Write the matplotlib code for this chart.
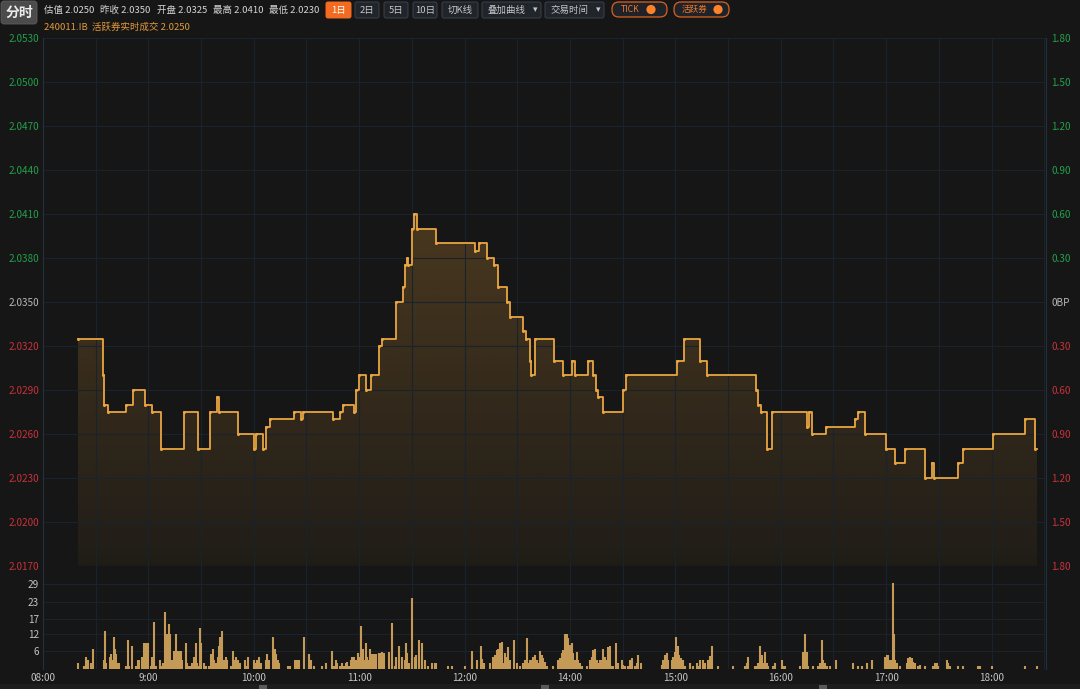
import numpy as np
import matplotlib
matplotlib.use("Agg")
import matplotlib.pyplot as plt
from matplotlib.patches import FancyBboxPatch, Rectangle, Circle

plt.rcParams['font.family'] = ['Noto Sans CJK SC', 'DejaVu Sans']

# ---- data (x = minutes on the session axis, 0 = 08:00) ----
price_t = [20, 34, 35, 37, 47, 51, 58, 62, 67, 80, 88, 95, 99, 100, 111, 120, 121, 125,
           127, 129, 143, 147, 148, 165, 169, 171, 177, 178, 180, 184, 187, 191, 193,
           201, 205, 206, 207, 208, 210, 211, 213, 224, 246, 248, 253, 257, 259, 264,
           266, 273, 275, 277, 278, 280, 291, 296, 301, 303, 310, 313, 315, 316, 319,
           330, 332, 361, 365, 374, 378, 406, 407, 409, 412, 415, 435, 436, 438, 446,
           462, 464, 468, 480, 485, 491, 502, 506, 507, 521, 524, 541, 559, 565]
price_v = [2.0325, 2.0300, 2.0280, 2.0275, 2.0280, 2.0290, 2.0280, 2.0275, 2.0250, 2.0275,
           2.0250, 2.0275, 2.0285, 2.0275, 2.0260, 2.0250, 2.0260, 2.0250, 2.0265, 2.0270,
           2.0275, 2.0270, 2.0275, 2.0270, 2.0275, 2.0280, 2.0275, 2.0290, 2.0300, 2.0290,
           2.0300, 2.0320, 2.0325, 2.0350, 2.0360, 2.0375, 2.0380, 2.0375, 2.0400, 2.0410,
           2.0400, 2.0390, 2.0385, 2.0390, 2.0380, 2.0375, 2.0360, 2.0350, 2.0340, 2.0330,
           2.0325, 2.0310, 2.0300, 2.0325, 2.0310, 2.0300, 2.0310, 2.0300, 2.0310, 2.0300,
           2.0290, 2.0285, 2.0275, 2.0290, 2.0300, 2.0310, 2.0325, 2.0310, 2.0300, 2.0290,
           2.0280, 2.0275, 2.0250, 2.0275, 2.0265, 2.0275, 2.0260, 2.0265, 2.0270, 2.0275,
           2.0260, 2.0250, 2.0240, 2.0250, 2.0230, 2.0240, 2.0230, 2.0240, 2.0250, 2.0260,
           2.0270, 2.0250]
t_last = 566

vol_t = [20.0, 23.4, 24.5, 25.7, 27.4, 28.5, 34.8, 35.3, 35.9, 38.2, 38.8, 39.3, 40.5, 41.0,
         41.6, 42.8, 43.3, 47.3, 48.5, 49.0, 50.7, 53.0, 54.2, 54.7, 56.4, 57.6, 58.7, 59.9,
         61.6, 62.1, 63.3, 64.4, 66.7, 67.8, 68.4, 69.5, 70.1, 70.7, 71.8, 72.4, 73.0, 74.1,
         74.7, 75.8, 76.4, 77.5, 78.7, 79.2, 81.5, 82.1, 83.2, 84.4, 84.9, 86.1, 87.2, 87.8,
         88.9, 89.5, 90.1, 91.8, 92.9, 94.6, 95.8, 96.9, 97.5, 98.6, 99.8, 100.3, 100.9,
         102.0, 102.6, 103.2, 104.3, 104.9, 107.2, 108.3, 109.4, 110.0, 111.2, 112.3, 115.1,
         115.7, 116.9, 120.3, 121.4, 122.0, 123.1, 124.3, 127.1, 127.7, 128.8, 131.1, 132.2,
         132.8, 134.0, 134.5, 139.7, 140.8, 143.6, 144.8,
         145.9, 148.8, 151.6, 152.8, 154.5, 159.0, 161.3, 164.7, 165.9, 167.0, 167.6, 169.3,
         170.4, 171.6, 172.7, 173.3, 174.4, 175.6, 176.1, 177.3, 178.4, 179.6, 180.7, 181.3,
         182.4, 183.0, 184.1, 184.7, 185.8, 186.4, 187.5, 188.1, 188.7, 189.8, 191.0, 191.5,
         192.7, 193.2, 194.4, 197.2, 198.4, 198.9, 200.6, 201.2, 202.4, 202.9, 204.6, 205.8,
         206.9, 207.5, 208.6, 209.8, 210.3, 211.5, 212.6, 213.8, 214.3, 215.5, 216.0, 217.2,
         218.9, 221.2, 222.9, 224.0, 230.3, 232.6, 240.0, 244.0, 244.5, 246.8, 249.1, 250.2,
         250.8, 254.2, 255.9, 257.1, 258.2, 258.8, 259.9, 261.1, 261.6, 262.8, 263.9, 264.5,
         265.6, 267.9, 269.6, 271.3, 273.0, 274.2, 275.3, 275.9, 277.0, 278.2, 278.7, 279.9,
         281.0, 281.6, 282.7, 283.9, 284.4, 285.6, 286.7, 290.1, 293.0, 294.1, 295.3, 295.8,
         297.0, 298.1, 298.7, 299.8, 301.0, 301.5, 302.7, 303.8, 304.4, 305.5, 306.7, 309.5,
         311.2, 312.4, 312.9, 314.1, 315.2, 315.8, 316.9, 318.1, 318.6, 319.8, 320.9, 321.5,
         322.6, 323.8, 324.3, 326.0, 327.2, 329.5, 330.0, 331.2, 332.9, 334.0, 335.2, 336.9,
         338.0, 338.6, 340.3, 352.3, 352.8, 354.0, 355.1, 355.7, 358.0, 358.5, 359.7, 360.2,
         361.4, 362.0, 363.1, 364.2, 365.4, 368.2, 369.9, 372.2, 372.8,
         373.9, 375.6, 376.8, 378.5, 379.6, 380.8, 384.2, 392.7, 399.6, 400.7, 401.3, 405.3,
         406.4, 407.0, 408.1, 409.3, 409.8, 411.0, 412.1, 412.7, 415.5, 416.7, 420.7, 421.2,
         422.4, 430.9, 432.6, 433.8, 434.9, 435.5, 438.3, 441.2, 442.3, 443.5, 444.0, 445.2,
         446.3, 448.0, 451.4, 461.1, 464.0, 466.3, 469.1, 472.0, 479.4, 480.5, 481.1, 482.2,
         483.4, 483.9, 484.5, 485.1, 486.2, 487.9, 491.9, 492.5, 493.6, 494.8, 495.3, 496.5,
         498.2, 499.3, 502.2, 506.7, 507.9, 509.0, 509.6, 514.7, 515.3, 516.4, 521.0, 523.8,
         532.4, 533.5, 540.4, 559.2, 566.0]
vol_v = [2, 1, 4, 3, 2, 7, 3, 13, 2, 4, 5, 3, 11, 7,
         5, 2, 2, 1, 10, 1, 8, 1, 3, 3, 4, 9, 9, 9,
         1, 4, 16, 1, 3, 1, 2, 19.5, 6.5, 12, 15.5, 12, 3, 3,
         6, 12, 6, 6, 6, 3, 9, 2, 1, 1, 2, 4, 9, 2,
         1, 14, 9, 2, 1, 1, 5, 7, 3, 2, 4, 8, 11,
         13, 2, 3, 4, 3, 1, 6, 3, 4, 3, 2, 3,
         1, 4, 3, 2, 3, 4, 2, 3, 5, 3, 11, 7,
         5, 3, 2, 1, 1, 3, 3,
         3, 11, 5, 3, 1, 1, 2, 6, 1, 3, 2, 1,
         2, 1, 2, 2.5, 1, 3, 4, 4, 3, 5.6, 4, 14.7,
         7, 3, 9, 4, 3, 7, 5, 5, 5, 5, 5.3, 5.3,
         5.3, 5.9, 5.6, 5.9, 15.7, 3, 1, 4, 8, 3, 4, 3,
         9, 5.3, 2, 24.4, 4, 4, 4.8, 4.8, 10, 9, 4, 3,
         1, 2, 2, 2, 1, 1, 1, 6, 2, 3, 8, 3.3,
         2, 2, 4, 4.8, 6.5, 7, 8.75, 9.3, 2, 5.3, 4, 7.6,
         3, 10, 2, 1, 2, 3, 10.7, 2, 3, 3, 4, 4.8,
         3, 2, 6, 4.8, 3.6, 2.5, 1, 1, 3, 3.6, 5.3, 6.5,
         12, 12, 10.5, 8.2, 9, 5.3, 3, 5.9, 3, 2, 1, 1,
         3, 4, 6.5, 7, 3, 2, 3, 3, 6.7, 4, 3, 7.6,
         7.8, 1, 1, 9, 2, 3, 1.4, 1, 1, 3, 3.9, 1,
         2, 4.8, 2, 1.4, 3, 4.8, 5.6, 3, 3, 4, 5.9, 10.8,
         7.8, 4.8, 3.6, 3, 1, 2, 1, 2, 1,
         3, 3, 2, 3, 4.4, 7.8, 1, 1, 1, 2, 4, 1,
         1, 2, 7.8, 4.8, 2, 5.8, 2, 1, 1, 2, 3, 1,
         1, 1, 5.9, 12, 5.9, 1, 1, 1, 2, 10, 3, 2,
         1, 1, 3, 2, 1, 1, 2, 3, 4.2, 4.8, 4.8, 3,
         3, 29.4, 12, 3, 2, 1, 2, 3.6, 4, 3.6, 2.5, 2,
         1, 1.4, 1, 1, 2, 2, 1, 3, 2, 1, 1, 1,
         1, 1, 1, 1, 1]

price_ticks = [2.0170, 2.0200, 2.0230, 2.0260, 2.0290, 2.0320, 2.0350,
               2.0380, 2.0410, 2.0440, 2.0470, 2.0500, 2.0530]
prev_close = 2.0350
bp_labels = ["1.80", "1.50", "1.20", "0.90", "0.60", "0.30", "0BP",
             "0.30", "0.60", "0.90", "1.20", "1.50", "1.80"]
vol_ticks = [6, 12, 17, 23, 29]
hour_t = [0, 60, 120, 180, 240, 300, 360, 420, 480, 540]
hour_labels = ["08:00", "9:00", "10:00", "11:00", "12:00", "14:00",
               "15:00", "16:00", "17:00", "18:00"]

header_items = [("估值", "2.0250"), ("昨收", "2.0350"), ("开盘", "2.0325"),
                ("最高", "2.0410"), ("最低", "2.0230")]

BG = "#161616"
GRID = "#18232d"
GREEN = "#22a04c"
RED = "#c8323b"
GOLD = "#e9a541"
X_MAX = 571

fig = plt.figure(figsize=(10.8, 6.89), dpi=100, facecolor=BG)
W, H = 1080, 689

def fx(px):
    return px / W

def fy(py):
    return 1 - py / H

ax = fig.add_axes([fx(43), fy(566), fx(1046) - fx(43), fy(38) - fy(566)], facecolor=BG)
axv = fig.add_axes([fx(43), fy(669), fx(1046) - fx(43), fy(566) - fy(669)], facecolor=BG)

def color_labels(labels, ticks):
    for lab, v in zip(labels, ticks):
        if abs(v - prev_close) < 1e-6:
            lab.set_color("#b8b8b8")
        elif v > prev_close:
            lab.set_color(GREEN)
        else:
            lab.set_color(RED)

# ---- price pane ----
xs = price_t + [t_last]
ys = price_v + [price_v[-1]]
lo, hi = price_ticks[0], price_ticks[-1]

poly = ax.fill_between(xs, ys, lo, step='post', facecolor='none', edgecolor='none')
alpha = np.linspace(0.05, 0.35, 256)
grad = np.zeros((256, 1, 4))
grad[..., 0] = 230 / 255
grad[..., 1] = 160 / 255
grad[..., 2] = 60 / 255
grad[..., 3] = alpha[:, None]
im = ax.imshow(grad, extent=[0, X_MAX, lo, hi], origin='lower', aspect='auto',
               interpolation='bilinear', zorder=1)
im.set_clip_path(poly.get_paths()[0], transform=ax.transData)

ax.step(xs, ys, where='post', color=GOLD, lw=1.3, zorder=3)
ax.plot(price_t, price_v, ls='none', marker='o', ms=1.2, color=GOLD, zorder=4)

ax.set_xlim(0, X_MAX)
ax.set_ylim(lo, hi)
ax.set_yticks(price_ticks)
ax.set_yticklabels([f"{v:.4f}" for v in price_ticks])
color_labels(ax.get_yticklabels(), price_ticks)
ax.set_xticks(np.arange(0, X_MAX, 30))
ax.set_xticklabels([])
ax.tick_params(axis='both', length=0, labelsize=7.2, pad=3)
ax.grid(True, color=GRID, lw=0.8)
for s in ['top', 'bottom']:
    ax.spines[s].set_visible(False)
for s in ['left', 'right']:
    ax.spines[s].set_color("#24303b")
    ax.spines[s].set_linewidth(0.8)

axr = ax.twinx()
axr.set_ylim(lo, hi)
axr.set_yticks(price_ticks)
axr.set_yticklabels(bp_labels[::-1])
color_labels(axr.get_yticklabels(), price_ticks)
axr.tick_params(axis='y', length=0, labelsize=7.2, pad=4)
for s in axr.spines.values():
    s.set_visible(False)

# ---- volume pane ----
axv.vlines(vol_t, 0, vol_v, colors="#c49a56", lw=1.5, zorder=3)
axv.set_xlim(0, X_MAX)
axv.set_ylim(0, 35.2)
axv.set_yticks(vol_ticks)
axv.set_yticklabels([str(v) for v in vol_ticks], color="#c4c4c4")
grid_t = list(np.arange(0, X_MAX, 30))
axv.set_xticks(grid_t)
axv.set_xticklabels([hour_labels[hour_t.index(t)] if t in hour_t else "" for t in grid_t],
                    color="#c4c4c4")
axv.tick_params(axis='both', length=0, labelsize=7.2, pad=3)
axv.grid(True, color=GRID, lw=0.8)
for s in ['top', 'bottom']:
    axv.spines[s].set_visible(False)
for s in ['left', 'right']:
    axv.spines[s].set_color("#24303b")
    axv.spines[s].set_linewidth(0.8)

# ---- header / overlay in pixel coords ----
ov = fig.add_axes([0, 0, 1, 1], facecolor='none')
ov.set_xlim(0, W)
ov.set_ylim(H, 0)
ov.axis('off')

ov.add_patch(FancyBboxPatch((1, 1), 36, 23, boxstyle="round,pad=0,rounding_size=3",
                            facecolor="#4b4b4b", edgecolor="#5c5c5c", lw=0.6))
ov.text(19, 13, "分时", color="#ececec", fontsize=10, fontweight='bold',
        ha='center', va='center')

x = 44
for name, val in header_items:
    ov.text(x, 10, name + " " + val, color="#d6d6d6", fontsize=6.8, ha='left', va='center')
    x += 56.3

def button(x0, x1, label, face, edge, tc, arrow=False):
    ov.add_patch(FancyBboxPatch((x0, 2), x1 - x0, 16, boxstyle="round,pad=0,rounding_size=2",
                                facecolor=face, edgecolor=edge, lw=0.7))
    if arrow:
        ov.text(x0 + 6, 10, label, color=tc, fontsize=6.8, ha='left', va='center')
        ov.text(x1 - 6, 10, "▾", color=tc, fontsize=6.5, ha='center', va='center',
                family='DejaVu Sans')
    else:
        ov.text((x0 + x1) / 2, 10, label, color=tc, fontsize=6.8, ha='center', va='center')

button(326, 351, "1日", "#f26b20", "#f26b20", "white")
button(355, 379, "2日", "#20242b", "#3b424d", "#c6c6c6")
button(384, 408, "5日", "#20242b", "#3b424d", "#c6c6c6")
button(413, 437, "10日", "#20242b", "#3b424d", "#c6c6c6")
button(442, 478, "切K线", "#20242b", "#3b424d", "#c6c6c6")
button(482, 541, "叠加曲线", "#20242b", "#3b424d", "#c6c6c6", arrow=True)
button(545, 604, "交易时间", "#20242b", "#3b424d", "#c6c6c6", arrow=True)

def pill(x0, x1, label, text_x, dot_x):
    ov.add_patch(FancyBboxPatch((x0, 2), x1 - x0, 15, boxstyle="round,pad=0,rounding_size=7",
                                facecolor="#1f2329", edgecolor="#d9621e", lw=0.9))
    ov.text(text_x, 9.8, label, color="#ee7a2e", fontsize=6.2, ha='left', va='center')
    ov.add_patch(Circle((dot_x, 9.5), 4.6, facecolor="#ff8128", edgecolor='none'))

pill(612, 667, "TICK", 621, 651)
pill(674, 729, "活跃券", 682, 718)

ov.text(44, 27, "240011.IB  活跃券实时成交 2.0250", color="#e49a3c", fontsize=6.8,
        ha='left', va='center')

# bottom scroll strip
ov.add_patch(Rectangle((0, 684), W, 5, facecolor="#1d1d1d", edgecolor='none'))
for hx in [263, 545, 823]:
    ov.add_patch(Rectangle((hx - 4, 685), 8, 4, facecolor="#5a5a5a", edgecolor='none'))

fig.savefig("out.png", dpi=100, facecolor=BG)
